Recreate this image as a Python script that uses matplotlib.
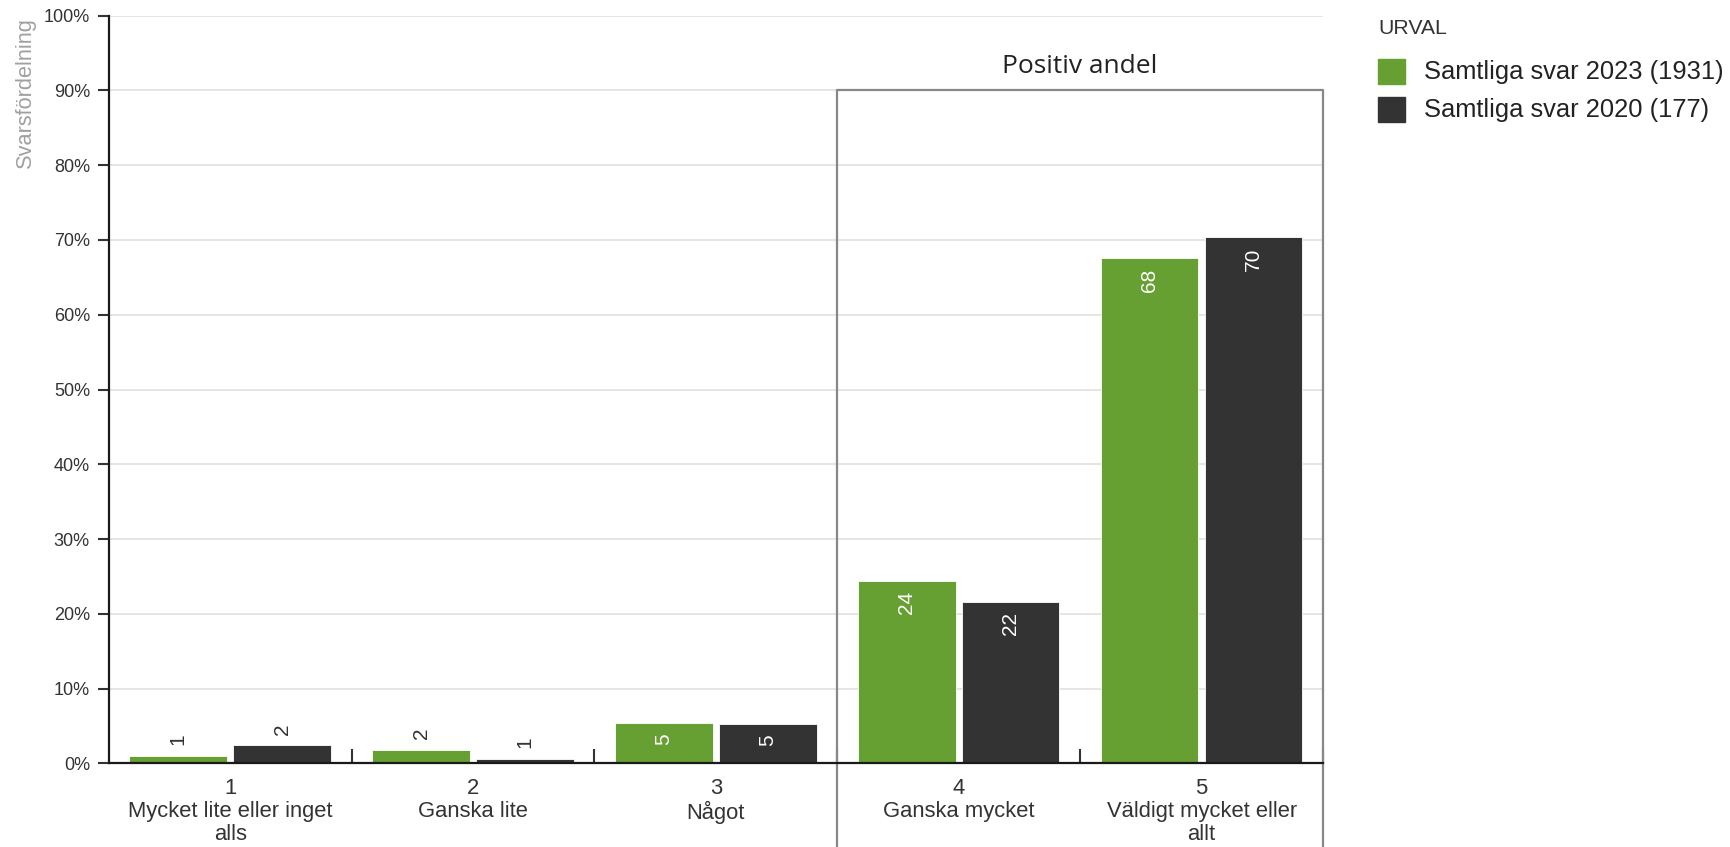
import matplotlib
matplotlib.use('Agg')
import matplotlib.pyplot as plt
from matplotlib.patches import Rectangle
import numpy as np

# Data
categories = ['1\nMycket lite eller inget\nalls', '2\nGanska lite', '3\nNågot',
              '4\nGanska mycket', '5\nVäldigt mycket eller\nallt']
series_names = ['Samtliga svar 2023 (1931)', 'Samtliga svar 2020 (177)']
values_2023 = [1.0, 1.8, 5.4, 24.4, 67.6]
values_2020 = [2.4, 0.6, 5.3, 21.6, 70.4]
colors = ['#66a032', '#333333']
y_ticks = list(range(0, 101, 10))
legend_title = 'URVAL'
box_title = 'Positiv andel'
y_label = 'Svarsfördelning'

plt.rcParams['font.family'] = ['Liberation Sans', 'DejaVu Sans']

W, H = 1731, 847
fig = plt.figure(figsize=(W / 100, H / 100), dpi=100)
ax = fig.add_axes([108.7 / W, 1 - 763.3 / H, (1323 - 108.7) / W, (763.3 - 15.7) / H])

x = np.arange(len(categories))
offsets = [-0.214, 0.214]
bar_w = 0.402

for vals, off, col in zip([values_2023, values_2020], offsets, colors):
    bars = ax.bar(x + off, vals, bar_w, color=col, edgecolor='white', linewidth=0.6, zorder=3)
    for b, v in zip(bars, vals):
        cx = b.get_x() + b.get_width() / 2
        lbl = f'{round(v)}'
        if v >= 4:
            ax.annotate(lbl, (cx, v), xytext=(0, -7.5), textcoords='offset points',
                        rotation=90, ha='center', va='top', color='white', fontsize=15, zorder=5)
        else:
            ax.annotate(lbl, (cx, v), xytext=(0, 7.5), textcoords='offset points',
                        rotation=90, ha='center', va='bottom', color='#333333', fontsize=15, zorder=5)

ax.set_xlim(-0.5, len(categories) - 0.5)
ax.set_ylim(0, 100)
ax.set_yticks(y_ticks)
ax.set_yticklabels([f'{t}%' for t in y_ticks])
ax.yaxis.grid(True, color='#e0e0e0', lw=1.2)
ax.set_axisbelow(True)

for s in ['top', 'right']:
    ax.spines[s].set_visible(False)
for s in ['left', 'bottom']:
    ax.spines[s].set_color('#1a1a1a')
    ax.spines[s].set_linewidth(1.6)
    ax.spines[s].set_zorder(4)

ax.tick_params(axis='y', length=8, width=1.5, color='#333333', labelsize=13,
               labelcolor='#333333', pad=5.5)
ax.set_xticks(x)
ax.set_xticklabels(categories, fontsize=15.8, color='#333333', linespacing=1.12)
ax.tick_params(axis='x', which='major', length=0, pad=10.5)
ax.set_xticks(np.arange(0.5, len(categories), 1), minor=True)
ax.tick_params(axis='x', which='minor', direction='in', length=10, width=1.5, color='#333333')

# "Positiv andel" box over categories 4 and 5
ax.plot([2.5, 2.5, 4.5, 4.5], [-15, 90, 90, -15], color='#888888', lw=1.6,
        clip_on=False, zorder=4)
ax.annotate(box_title, (3.5, 90), xytext=(0, 12.7), textcoords='offset points',
            ha='center', va='baseline', fontsize=19, color='#222222', family='Open Sans')

fig.text(25 / W, 1 - 17 / H, y_label, rotation=90, ha='center', va='top',
         color='#a0a0a0', fontsize=15.7)

# Legend
fig.text(1378 / W, 1 - 28 / H, legend_title, ha='left', va='center', fontsize=15.3, color='#333333')
for i, (name, col) in enumerate(zip(series_names, colors)):
    yc = 71.5 + 38 * i
    fig.add_artist(Rectangle((1378 / W, 1 - (yc + 12.5) / H), 27 / W, 25 / H,
                             transform=fig.transFigure, color=col))
    fig.text(1424 / W, 1 - yc / H, name, ha='left', va='center', fontsize=18.4, color='#222222')

fig.savefig('out.png', dpi=100)
